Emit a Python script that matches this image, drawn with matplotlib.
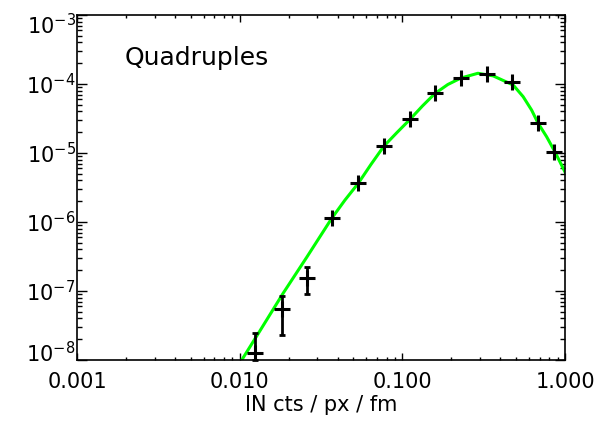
import numpy as np
import matplotlib.pyplot as plt
from matplotlib.transforms import ScaledTranslation

# measured points (plus symbols)
cts = [0.0125, 0.0181, 0.0259, 0.0371, 0.0536, 0.0771, 0.111, 0.159,
       0.229, 0.330, 0.474, 0.679, 0.858]
rate = [1.28e-8, 5.43e-8, 1.56e-7, 1.13e-6, 3.64e-6, 1.26e-5, 3.08e-5,
        7.33e-5, 1.22e-4, 1.38e-4, 1.06e-4, 2.69e-5, 1.02e-5]

# error bars only show up on the faint end
err_n = 3
err_lo = [1.0e-8, 2.30e-8, 9.05e-8]
err_hi = [2.49e-8, 8.47e-8, 2.25e-7]

# model curve
fit_x = [0.0103, 0.0133, 0.0185, 0.0259, 0.0369, 0.0444, 0.0536, 0.0641,
         0.0771, 0.0927, 0.1113, 0.1329, 0.1587, 0.1905, 0.2291, 0.2915,
         0.362, 0.480, 0.553, 0.623, 0.684, 0.771, 0.867, 1.0]
fit_y = [1.0e-8, 2.63e-8, 9.27e-8, 3.11e-7, 1.14e-6, 2.08e-6, 3.64e-6,
         6.81e-6, 1.26e-5, 1.98e-5, 3.06e-5, 4.80e-5, 7.28e-5, 9.84e-5,
         1.22e-4, 1.43e-4, 1.31e-4, 9.67e-5, 6.55e-5, 4.20e-5, 2.69e-5,
         1.72e-5, 1.04e-5, 5.3e-6]

xticks = [0.001, 0.01, 0.1, 1.0]
xticklabels = ["0.001", "0.010", "0.100", "1.000"]
yticks = [1e-8, 1e-7, 1e-6, 1e-5, 1e-4, 1e-3]
yticklabels = [r"$10^{-8}$", r"$10^{-7}$", r"$10^{-6}$", r"$10^{-5}$",
               r"$10^{-4}$", r"$10^{-3}$"]

fig = plt.figure(figsize=(5.96, 4.25), dpi=100)
ax = fig.add_axes([77 / 596, 65 / 425, 488 / 596, 345 / 425])

ax.plot(fit_x, fit_y, color="#00ff00", lw=2.2, zorder=2)

mid = np.array(rate[:err_n])
lo = mid - np.array(err_lo)
hi = np.array(err_hi) - mid
ax.errorbar(cts[:err_n], mid, yerr=[lo, hi], fmt="none", ecolor="black",
            elinewidth=2.0, capsize=2.5, capthick=2.0, clip_on=False, zorder=3)
ax.plot(cts, rate, "+", color="black", ms=12, mew=2.2, zorder=4)

ax.set_xscale("log")
ax.set_yscale("log")
ax.set_xlim(0.001, 1.0)
ax.set_ylim(1e-8, 1e-3)

ax.set_xticks(xticks)
ax.set_xticklabels(xticklabels)
ax.set_yticks(yticks)
ax.set_yticklabels(yticklabels)

ax.tick_params(which="both", direction="in", top=True, right=True,
               width=1, colors="black")
ax.tick_params(axis="x", which="major", length=5, pad=9, labelsize=15)
ax.tick_params(axis="x", which="minor", length=2.5)
ax.tick_params(axis="y", which="major", length=7, pad=1, labelsize=15)
ax.tick_params(axis="y", which="minor", length=3.5)
for s in ax.spines.values():
    s.set_linewidth(1.2)

# IDL pulls the end labels inside the plot range
labs = ax.get_yticklabels()
labs[0].set_transform(labs[0].get_transform()
                      + ScaledTranslation(0, 6 / 72, fig.dpi_scale_trans))
labs[-1].set_transform(labs[-1].get_transform()
                       + ScaledTranslation(0, -6 / 72, fig.dpi_scale_trans))

ax.set_xlabel("IN cts / px / fm", fontsize=15, labelpad=2)
ax.text(0.098, 0.855, "Quadruples", transform=ax.transAxes, fontsize=18)

fig.savefig("out.png", dpi=100)
